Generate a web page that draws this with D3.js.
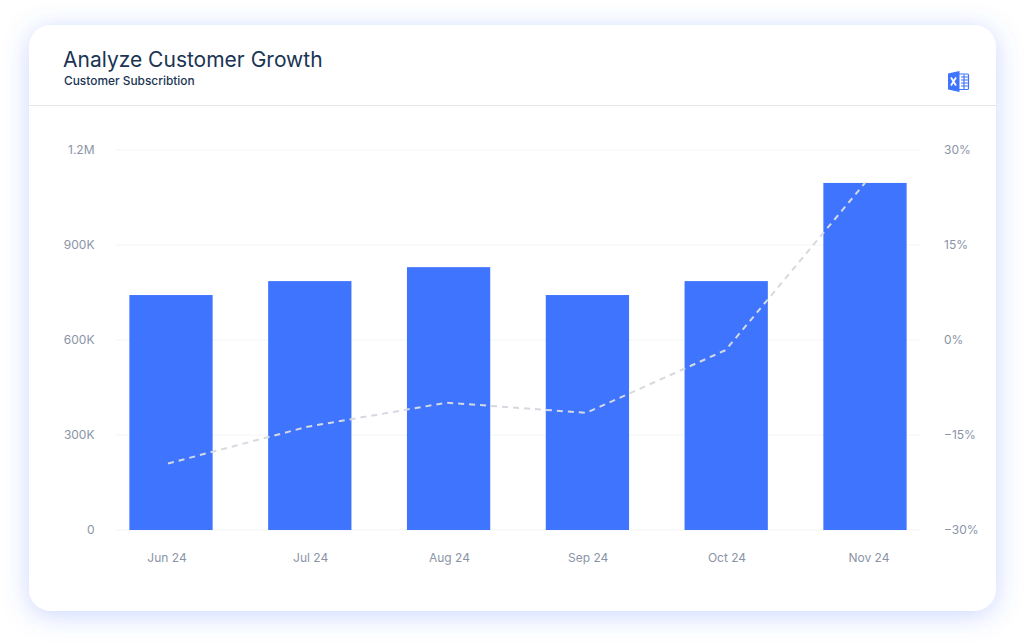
<!DOCTYPE html>
<html>
<head>
<meta charset="utf-8">
<script src="https://cdn.jsdelivr.net/npm/d3@7"></script>
<style>
html, body { margin: 0; padding: 0; background: #fff; overflow: hidden; }
svg { display: block; font-family: "Inter", sans-serif; }
.tick-label { fill: #8a94a6; font-size: 12px; }
</style>
</head>
<body>
<div id="chart"></div>
<script>
const months = ["Jun 24", "Jul 24", "Aug 24", "Sep 24", "Oct 24", "Nov 24"];
const customers = [742000, 786000, 830000, 742000, 786000, 1096000];
const growth = [-19.5, -13.7, -9.9, -11.5, -1.6, 24.8];
const leftTicks = [0, 300000, 600000, 900000, 1200000];
const leftLabels = ["0", "300K", "600K", "900K", "1.2M"];
const rightTicks = [-30, -15, 0, 15, 30];
const rightLabels = ["−30%", "−15%", "0%", "15%", "30%"];

const width = 1024, height = 644;
const margin = ({ top: 150, right: 104, bottom: 114, left: 116 });

const svg = d3.select("#chart")
    .append("svg")
    .attr("width", width)
    .attr("height", height)
    .attr("viewBox", [0, 0, width, height]);

// soft blue glow round the card
const defs = svg.append("defs");
const glow = defs.append("filter")
    .attr("id", "glow")
    .attr("x", "-10%").attr("y", "-10%")
    .attr("width", "120%").attr("height", "125%");
glow.append("feDropShadow")
    .attr("dx", 0).attr("dy", 4)
    .attr("stdDeviation", 13)
    .attr("flood-color", "#3f6fff")
    .attr("flood-opacity", 0.28);

svg.append("rect")
    .attr("x", 29).attr("y", 25)
    .attr("width", 967).attr("height", 586)
    .attr("rx", 22)
    .attr("fill", "#fff")
    .attr("filter", "url(#glow)");

svg.append("line")
    .attr("x1", 29).attr("x2", 996)
    .attr("y1", 105.5).attr("y2", 105.5)
    .attr("stroke", "#e4e6ea");

svg.append("text")
    .attr("x", 63).attr("y", 67)
    .attr("fill", "#1a3553")
    .attr("font-size", 21)
    .attr("font-weight", 400)
    .text("Analyze Customer Growth");

svg.append("text")
    .attr("x", 64).attr("y", 85)
    .attr("fill", "#1a3553")
    .attr("font-size", 11.9)
    .attr("font-weight", 500)
    .text("Customer Subscribtion");

// excel icon
const icon = svg.append("g").attr("transform", "translate(948,71)");
icon.append("rect").attr("x", 10).attr("y", 3).attr("width", 10.5).attr("height", 15.5).attr("rx", 1).attr("fill", "#fff").attr("stroke", "#3f74ff").attr("stroke-width", 1.2);
icon.append("path").attr("d", "M0 2.5L11.5 0V21L0 18.5Z").attr("fill", "#3f74ff");
icon.append("path").attr("d", "M3 6.5L8 14.5M8 6.5L3 14.5").attr("stroke", "#fff").attr("stroke-width", 1.8).attr("fill", "none");
icon.append("path").attr("d", "M13 6H20M13 9H20M13 12H20M13 15H20M16 3.5V18").attr("stroke", "#3f74ff").attr("stroke-width", 1.2).attr("fill", "none");

const x = d3.scaleBand()
    .domain(months)
    .range([101.6, 934.4])
    .paddingInner(0.4)
    .paddingOuter(0.2);

// the line sits a little left of the bar centres, except at the last bar
const xLine = d3.scalePoint()
    .domain(months)
    .range([168, 865]);

const y = d3.scaleLinear()
    .domain([0, 1200000])
    .range([height - margin.bottom, margin.top]);

const yRight = d3.scaleLinear()
    .domain([-30, 30])
    .range([height - margin.bottom, margin.top]);

svg.append("g")
    .selectAll("line")
    .data(leftTicks)
    .join("line")
    .attr("x1", margin.left)
    .attr("x2", width - margin.right)
    .attr("y1", d => y(d))
    .attr("y2", d => y(d))
    .attr("stroke", "#f3f4f6");

svg.append("g")
    .selectAll("rect")
    .data(months)
    .join("rect")
    .attr("x", d => x(d))
    .attr("width", x.bandwidth())
    .attr("y", (d, i) => y(customers[i]))
    .attr("height", (d, i) => y(0) - y(customers[i]))
    .attr("fill", "#3f74ff");

const line = d3.line()
    .x((d, i) => xLine(months[i]))
    .y(d => yRight(d));

svg.append("path")
    .datum(growth)
    .attr("d", line)
    .attr("fill", "none")
    .attr("stroke", "#d5d9e0")
    .attr("stroke-width", 2)
    .attr("stroke-dasharray", "6 5");

svg.append("g")
    .selectAll("text")
    .data(leftTicks)
    .join("text")
    .attr("class", "tick-label")
    .attr("x", 94.5)
    .attr("y", d => y(d))
    .attr("dy", "0.36em")
    .attr("text-anchor", "end")
    .text((d, i) => leftLabels[i]);

svg.append("g")
    .selectAll("text")
    .data(rightTicks)
    .join("text")
    .attr("class", "tick-label")
    .attr("x", 944)
    .attr("y", d => yRight(d))
    .attr("dy", "0.36em")
    .text((d, i) => rightLabels[i]);

// first and last labels are pushed outwards a little
svg.append("g")
    .selectAll("text")
    .data(months)
    .join("text")
    .attr("class", "tick-label")
    .attr("x", (d, i) => x(d) + x.bandwidth() / 2 + (i === 0 ? -4 : i === months.length - 1 ? 4 : 0.8))
    .attr("y", 562)
    .attr("text-anchor", "middle")
    .text(d => d);
</script>
</body>
</html>
